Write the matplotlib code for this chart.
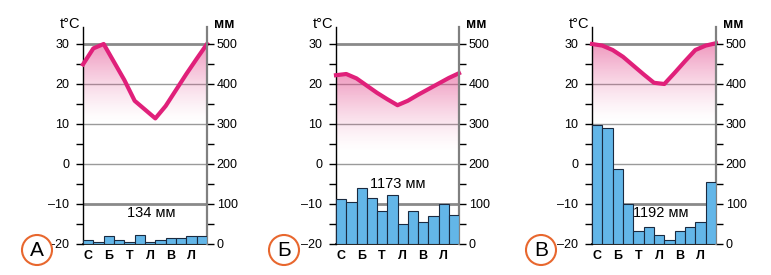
import numpy as np
import matplotlib
matplotlib.use("Agg")
from matplotlib import pyplot as plt
from matplotlib.patches import Ellipse, Polygon

plt.rcParams['font.family'] = ['Liberation Sans', 'DejaVu Sans']

# temperatures at month boundaries (13 points), degrees C
temp_a = [24.9, 28.9, 30.0, 25.5, 21.0, 15.8, 13.6, 11.4, 14.5, 18.5, 22.5, 26.3, 30.0]
temp_b = [22.2, 22.5, 21.4, 19.6, 17.8, 16.2, 14.7, 15.8, 17.3, 18.7, 20.1, 21.5, 22.7]
temp_c = [30.0, 29.6, 28.5, 26.8, 24.6, 22.4, 20.3, 20.0, 22.8, 25.7, 28.5, 29.6, 30.2]

# monthly precipitation, mm
prec_a = [11, 6, 19, 10, 6, 22, 4, 10, 15, 15, 19, 19]
prec_b = [112, 106, 140, 115, 83, 123, 50, 83, 55, 70, 100, 73]
prec_c = [298, 290, 187, 99, 33, 42, 22, 9, 32, 42, 54, 156]

totals = ['134 мм', '1173 мм', '1192 мм']
letters = ['А', 'Б', 'В']
month_labels = ['С', 'Б', 'Т', 'Л', 'В', 'Л']

W, H = 771, 275
fig = plt.figure(figsize=(W / 100, H / 100), dpi=100)

lefts = [83, 336, 592]
widths = [124, 123, 124]
top_px, bot_px = 27, 244
ymin, ymax = -20, 34.25
label_pos = [(6.6, -12.3), (6.05, -5.0), (6.7, -12.3)]
circle_x = [37, 284, 541]

line_col = '#E0207A'
bar_col = '#63B6E8'

for i, (temps, prec) in enumerate(zip([temp_a, temp_b, temp_c], [prec_a, prec_b, prec_c])):
    ax = fig.add_axes([lefts[i] / W, (H - bot_px) / H, widths[i] / W, (bot_px - top_px) / H])
    ax.set_xlim(0, 12)
    ax.set_ylim(ymin, ymax)

    # horizontal lines
    for v in [30, -10]:
        ax.axhline(v, color='#8a8a8a', lw=2, zorder=1)
    for v in [20, 10, 0]:
        ax.axhline(v, color='#9a9a9a', lw=1, zorder=1)

    # pink gradient under the temperature curve
    xs = np.arange(13)
    tmax = max(temps)
    gbot = tmax - 20
    grad = np.linspace(0, 1, 256).reshape(-1, 1)
    rgba = np.zeros((256, 1, 4))
    rgba[..., 0] = 0.89
    rgba[..., 1] = 0.27
    rgba[..., 2] = 0.54
    rgba[..., 3] = 0.55 * grad[::-1] ** 1.4
    im = ax.imshow(rgba, extent=[0, 12, gbot, tmax], origin='upper', aspect='auto', zorder=2,
                   interpolation='bilinear')
    poly = Polygon(list(zip(xs, temps)) + [(12, gbot), (0, gbot)], closed=True,
                   transform=ax.transData, facecolor='none', edgecolor='none')
    ax.add_patch(poly)
    im.set_clip_path(poly)
    ax.set_ylim(ymin, ymax)

    ax.plot(xs, temps, color=line_col, lw=3, solid_joinstyle='round', zorder=6, clip_on=False)

    ax.set_yticks([-20, -10, 0, 10, 20, 30])
    ax.set_yticklabels(['\u201320', '\u201310', '0', '10', '20', '30'])
    ax.set_yticks([-15, -5, 5, 15, 25], minor=True)
    ax.tick_params(axis='y', which='both', length=5, width=1, direction='out', labelsize=9, pad=5,
                   colors='black')
    ax.set_xticks([0.5, 2.5, 4.5, 6.5, 8.5, 10.5])
    ax.set_xticklabels(month_labels, fontweight='bold', fontsize=9)
    ax.tick_params(axis='x', length=0, pad=4)
    for s in ['top', 'right']:
        ax.spines[s].set_visible(False)
    ax.spines['left'].set_linewidth(1)
    ax.spines['bottom'].set_linewidth(1.2)

    ax2 = ax.twinx()
    ax2.set_ylim((ymin + 20) * 10, (ymax + 20) * 10)
    ax2.bar(np.arange(12), prec, width=1, align='edge', color=bar_col, edgecolor='#1a2a40',
            linewidth=0.8, zorder=3)
    ax2.set_xlim(0, 12)
    ax2.set_yticks([0, 100, 200, 300, 400, 500])
    ax2.set_yticks([50, 150, 250, 350, 450], minor=True)
    ax2.tick_params(axis='y', which='both', length=5, width=1, direction='out', labelsize=9, pad=2)
    for s in ['top', 'left', 'bottom']:
        ax2.spines[s].set_visible(False)
    ax2.spines['right'].set_color('#808080')
    ax2.spines['right'].set_linewidth(1.6)

    lx, ly = label_pos[i]
    ax2.text(lx, (ly + 20) * 10, totals[i], ha='center', va='center', fontsize=10.5, zorder=10)

    fig.text((lefts[i] - 3) / W, 1 - 24 / H, 't°C', ha='right', va='center', fontsize=10.5)
    fig.text((lefts[i] + widths[i] + 17) / W, 1 - 24 / H, 'мм', ha='center', va='center',
             fontsize=10, fontweight='bold')

    fig.patches.append(Ellipse((circle_x[i] / W, 1 - 250 / H), 30 / W, 30 / H,
                               transform=fig.transFigure, facecolor='white',
                               edgecolor='#E8672E', lw=1.5))
    fig.text(circle_x[i] / W, 1 - 250 / H, letters[i], ha='center', va='center', fontsize=15)

fig.savefig('out.png', dpi=100)
